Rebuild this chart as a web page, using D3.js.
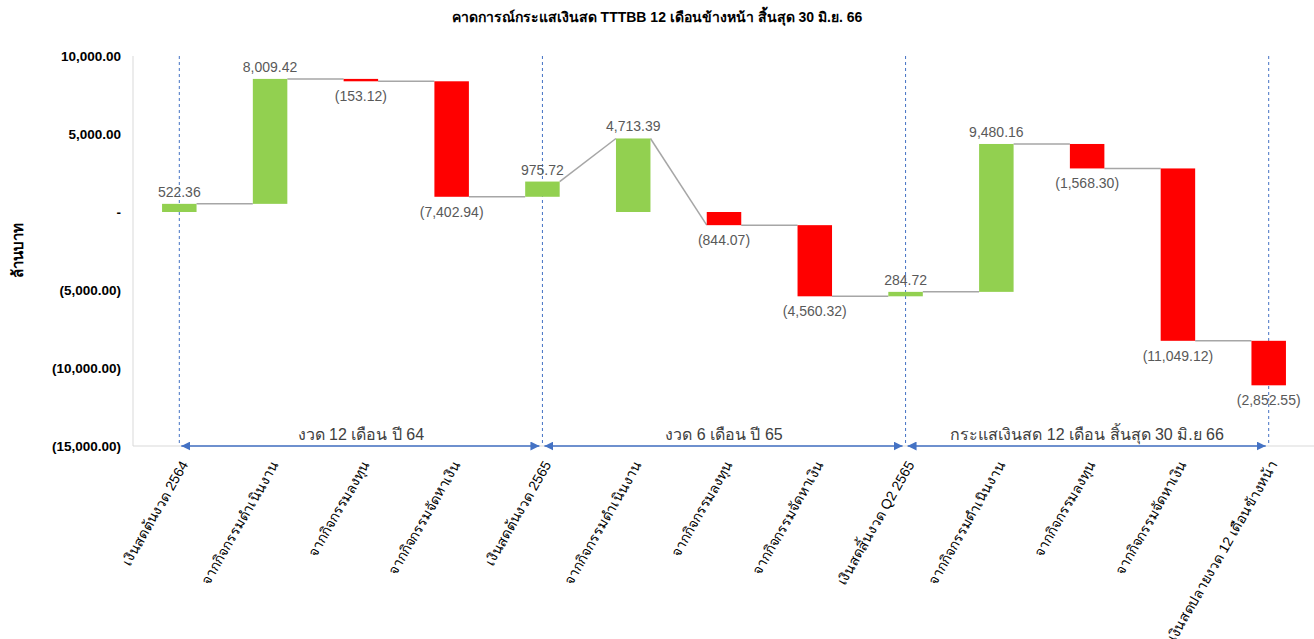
<!DOCTYPE html>
<html>
<head>
<meta charset="utf-8">
<script src="https://cdn.jsdelivr.net/npm/d3@7"></script>
<style>
  body { margin: 0; background: #fff; }
  text { font-family: "Liberation Sans", Arial, "Noto Sans", sans-serif; }
</style>
</head>
<body>
<svg id="chart" width="1314" height="639"></svg>
<script>
// categories along the x axis
var labels = [
  "เงินสดต้นงวด 2564",
  "จากกิจกรรมดำเนินงาน",
  "จากกิจกรรมลงทุน",
  "จากกิจกรรมจัดหาเงิน",
  "เงินสดต้นงวด 2565",
  "จากกิจกรรมดำเนินงาน",
  "จากกิจกรรมลงทุน",
  "จากกิจกรรมจัดหาเงิน",
  "เงินสดสิ้นงวด Q2 2565",
  "จากกิจกรรมดำเนินงาน",
  "จากกิจกรรมลงทุน",
  "จากกิจกรรมจัดหาเงิน",
  "เงินสดปลายงวด 12 เดือนข้างหน้า"
];
// bar values (label values, sign gives direction)
var values = [522.36, 8009.42, -153.12, -7402.94, 975.72, 4713.39, -844.07, -4560.32, 284.72, 9480.16, -1568.30, -11049.12, -2852.55];
// level each bar starts from, as drawn
var barBase = [0, 522.36, 8531.78, 8378.66, 975.72, 0, 0, -844.07, -5404.39, -5119.67, 4360.49, 2792.19, -8256.93];
// level where the connector coming from the previous bar meets this bar
var joinIn = [null, 522.36, 8531.78, 8378.66, 975.72, 4713.39, -844.07, -844.07, -5404.39, -5119.67, 4360.49, 2792.19, -8256.93];
var yTicks = [10000, 5000, 0, -5000, -10000, -15000];
// period brackets: [from index, to index, text]
var periods = [
  [0, 4, "งวด 12 เดือน ปี 64"],
  [4, 8, "งวด 6 เดือน ปี 65"],
  [8, 12, "กระแสเงินสด 12 เดือน สิ้นสุด 30 มิ.ย 66"]
];
var title = "คาดการณ์กระแสเงินสด TTTBB 12 เดือนข้างหน้า สิ้นสุด 30 มิ.ย. 66";
var yTitle = "ล้านบาท";

var svg = d3.select("#chart");
var pLeft = 133, pRight = 1315, pTop = 56, pBottom = 446;
var green = "#92D050", red = "#FF0000", blue = "#4472C4";

var x = d3.scaleBand().domain(d3.range(labels.length)).range([pLeft, pRight])
  .paddingInner(0.62).paddingOuter(0.32);
var y = d3.scaleLinear().domain([-15000, 10000]).range([pBottom, pTop]);
var cx = function(i) { return x(i) + x.bandwidth() / 2; };

var fmt = d3.format(",.2f");
function acct(v) {
  if (v === 0) return "-";
  return v < 0 ? "(" + fmt(-v) + ")" : fmt(v);
}

// title
svg.append("text").attr("x", 657).attr("y", 22).attr("text-anchor", "middle")
  .attr("font-size", 14).attr("font-weight", "bold").attr("fill", "#000").text(title);

// y axis title
svg.append("text").attr("transform", "translate(23," + 250 + ") rotate(-90)")
  .attr("text-anchor", "middle").attr("font-size", 15).attr("font-weight", "bold")
  .attr("fill", "#000").text(yTitle);

// axis lines
svg.append("line").attr("x1", pLeft).attr("x2", pLeft).attr("y1", pTop).attr("y2", pBottom)
  .attr("stroke", "#D9D9D9").attr("stroke-width", 1);
svg.append("line").attr("x1", pLeft).attr("x2", 1314).attr("y1", pBottom).attr("y2", pBottom)
  .attr("stroke", "#D9D9D9").attr("stroke-width", 1);

// y tick labels
svg.selectAll(".ytick").data(yTicks).enter().append("text")
  .attr("class", "ytick")
  .attr("x", 121).attr("y", function(d) { return y(d); }).attr("dy", "0.35em")
  .attr("text-anchor", "end").attr("font-size", 13.5).attr("font-weight", "bold")
  .attr("fill", "#000").text(acct);

// vertical dashed period markers
var marks = [0, 4, 8, 12];
svg.selectAll(".vmark").data(marks).enter().append("line")
  .attr("x1", function(d) { return cx(d); }).attr("x2", function(d) { return cx(d); })
  .attr("y1", pTop).attr("y2", pBottom)
  .attr("stroke", blue).attr("stroke-width", 1).attr("stroke-dasharray", "3,3");

// connectors
var conn = [];
for (var i = 0; i < values.length - 1; i++) {
  conn.push([x(i) + x.bandwidth(), barBase[i] + values[i], x(i + 1), joinIn[i + 1]]);
}
svg.selectAll(".conn").data(conn).enter().append("line")
  .attr("x1", function(d) { return d[0]; }).attr("y1", function(d) { return y(d[1]); })
  .attr("x2", function(d) { return d[2]; }).attr("y2", function(d) { return y(d[3]); })
  .attr("stroke", "#A6A6A6").attr("stroke-width", 1.5);

// bars
svg.selectAll(".bar").data(values).enter().append("rect")
  .attr("x", function(d, i) { return x(i); })
  .attr("width", x.bandwidth())
  .attr("y", function(d, i) { return y(Math.max(barBase[i], barBase[i] + d)); })
  .attr("height", function(d, i) { return Math.max(1, Math.abs(y(barBase[i]) - y(barBase[i] + d))); })
  .attr("fill", function(d) { return d >= 0 ? green : red; });

// data labels
svg.selectAll(".vlab").data(values).enter().append("text")
  .attr("x", function(d, i) { return cx(i); })
  .attr("y", function(d, i) {
    return d >= 0 ? y(barBase[i] + d) - 7 : y(barBase[i] + d) + 20;
  })
  .attr("text-anchor", "middle").attr("font-size", 14).attr("fill", "#595959")
  .text(acct);

// period arrows
var defs = svg.append("defs");
defs.append("marker").attr("id", "arr").attr("viewBox", "0 0 10 10")
  .attr("refX", 10).attr("refY", 5).attr("markerWidth", 9).attr("markerHeight", 9)
  .attr("markerUnits", "userSpaceOnUse").attr("orient", "auto-start-reverse")
  .append("path").attr("d", "M0,0L10,5L0,10Z").attr("fill", blue);

var pg = svg.selectAll(".period").data(periods).enter().append("g");
pg.append("line")
  .attr("x1", function(d) { return cx(d[0]) + 2; })
  .attr("x2", function(d) { return cx(d[1]) - 3; })
  .attr("y1", pBottom).attr("y2", pBottom)
  .attr("stroke", blue).attr("stroke-width", 1.5)
  .attr("marker-start", "url(#arr)").attr("marker-end", "url(#arr)");
pg.append("text")
  .attr("x", function(d) { return (cx(d[0]) + cx(d[1])) / 2; })
  .attr("y", pBottom - 6)
  .attr("text-anchor", "middle").attr("font-size", 16).attr("fill", "#404040")
  .text(function(d) { return d[2]; });

// x tick labels
svg.selectAll(".xlab").data(labels).enter().append("text")
  .attr("transform", function(d, i) { return "translate(" + (cx(i) + 5) + "," + 462 + ") rotate(-60)"; })
  .attr("text-anchor", "end").attr("dy", "0.35em").attr("font-size", 14).attr("fill", "#000")
  .text(function(d) { return d; });
</script>
</body>
</html>
